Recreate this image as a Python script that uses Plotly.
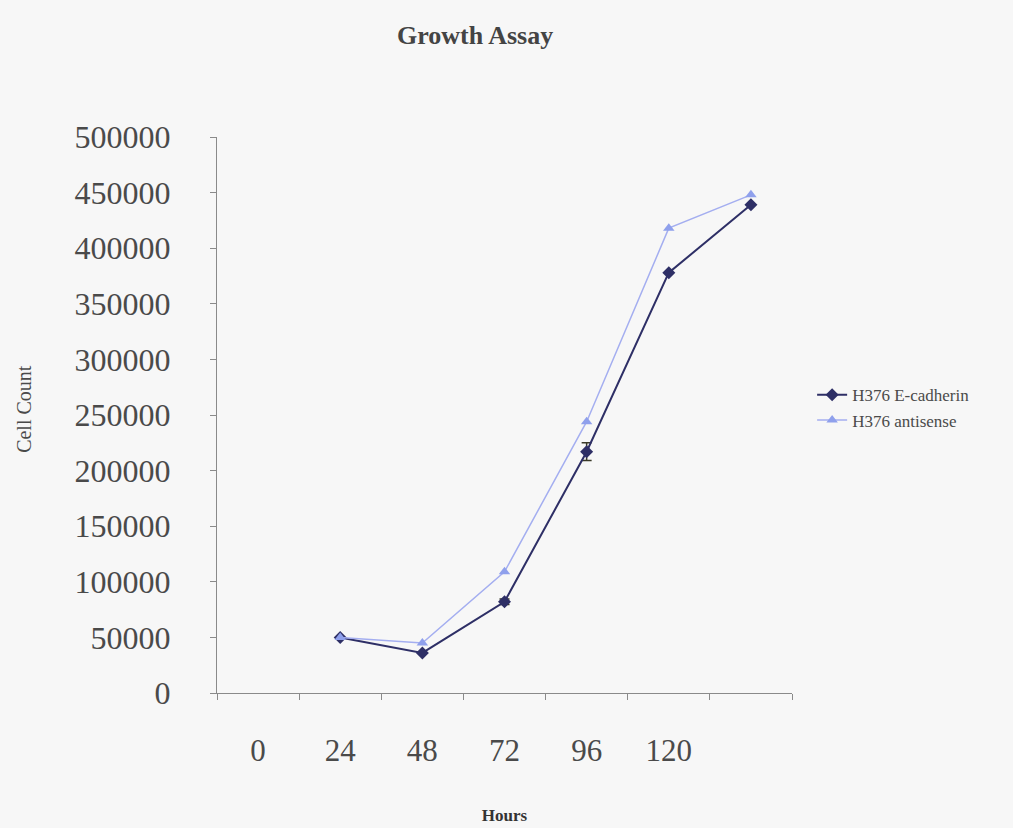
import plotly.graph_objects as go

# ---- data ----
hours = ["0", "24", "48", "72", "96", "120", "144"]
hour_labels = ["0", "24", "48", "72", "96", "120", ""]
sample_hours = ["24", "48", "72", "96", "120", "144"]
ecadherin = [50000, 36000, 82000, 217000, 378000, 439000]
ecadherin_err = [0, 0, 2500, 8000, 0, 0]
antisense = [50000, 45000, 109000, 244000, 418000, 448000]

FONT = "Liberation Serif"
TXT = "#4a4a4a"
AX = "#8a8a8a"

fig = go.Figure()
fig.add_trace(go.Scatter(
    x=sample_hours, y=ecadherin, name="H376 E-cadherin",
    mode="lines+markers",
    line=dict(color="#2e2f66", width=2),
    marker=dict(symbol="diamond", size=10, color="#2e2f66"),
    error_y=dict(type="data", array=ecadherin_err, visible=True,
                 color="#3a3a28", thickness=1.5, width=5),
))
fig.add_trace(go.Scatter(
    x=sample_hours, y=antisense, name="H376 antisense",
    mode="lines+markers",
    line=dict(color="#a4aef0", width=1.5),
    marker=dict(symbol="triangle-up", size=10, color="#8fa0ec"),
))

fig.update_layout(
    width=1013, height=828,
    paper_bgcolor="#f7f7f7", plot_bgcolor="#f7f7f7",
    margin=dict(l=217, r=221, t=137, b=135, autoexpand=False),
    font=dict(family=FONT, color=TXT),
    title=dict(text="Growth Assay", x=0.469, xanchor="center",
               y=0.958, yanchor="middle",
               font=dict(family=FONT, size=26, color="#444444", weight="bold")),
    showlegend=True,
    legend=dict(x=1.035, xanchor="left", y=0.513, yanchor="middle",
                bgcolor="rgba(0,0,0,0)", font=dict(family=FONT, size=17, color=TXT),
                tracegroupgap=0),
    annotations=[dict(text="Cell Count", textangle=-90, xref="paper", yref="paper",
                      x=-0.3357, y=0.511, xanchor="center", yanchor="middle",
                      showarrow=False, font=dict(family=FONT, size=20, color=TXT))],
)

fig.update_xaxes(
    type="category", categoryorder="array", categoryarray=hours,
    tickvals=hours, ticktext=hour_labels, tickson="boundaries",
    range=[-0.5, 6.5], automargin=False,
    ticks="outside", ticklen=6, tickcolor=AX, tickwidth=1,
    showline=True, linecolor=AX, linewidth=1,
    showgrid=False, zeroline=False,
    tickfont=dict(family=FONT, size=31, color=TXT),
    ticklabelstandoff=30,
    title=dict(text="Hours", standoff=41,
               font=dict(family=FONT, size=17, color="#333333", weight="bold")),
)
fig.update_yaxes(
    range=[0, 500000], dtick=50000, tick0=0, tickformat="d", automargin=False,
    ticks="outside", ticklen=6, tickcolor=AX, tickwidth=1,
    showline=True, linecolor=AX, linewidth=1,
    showgrid=False, zeroline=False,
    tickfont=dict(family=FONT, size=32, color=TXT),
    ticklabelstandoff=33,
)

fig.write_html("out.html", config={"displayModeBar": False},
               post_script="document.body.style.margin='0';")
